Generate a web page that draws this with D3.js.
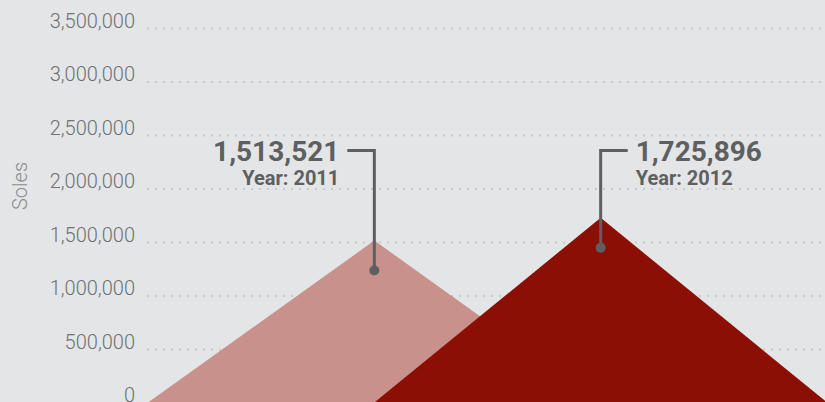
<!DOCTYPE html>
<html>
<head>
<meta charset="utf-8">
<script src="https://cdn.jsdelivr.net/npm/d3@7"></script>
<style>
  html, body { margin: 0; padding: 0; background: #e4e5e7; }
  svg { display: block; font-family: Roboto, "Open Sans", sans-serif; }
</style>
</head>
<body>
<svg id="chart" width="825" height="402"></svg>
<script>
// data
const years = ['2010', '2011', '2012', '2013'];
const soles2011 = [0, 1513521, 0, null];
const soles2012 = [null, 0, 1725896, 0];
const yTicks = [0, 500000, 1000000, 1500000, 2000000, 2500000, 3000000, 3500000];

const width = 825;
const height = 402;
const margin = { left: 147, top: 28, right: -2, bottom: 0 };

const svg = d3.select('#chart');

const x = d3.scalePoint()
  .domain(years)
  .range([margin.left + 1, width - margin.right]);

const y = d3.scaleLinear()
  .domain([0, 3500000])
  .range([height + 0.5 - margin.bottom, margin.top]);

// dotted grid
const grid = svg.append('g')
  .attr('transform', `translate(${margin.left},0)`)
  .call(d3.axisRight(y).tickValues(yTicks).tickSize(width - margin.left).tickFormat(''));
grid.select('.domain').remove();
grid.selectAll('line')
  .attr('stroke', '#c9cacc')
  .attr('stroke-width', 2)
  .attr('stroke-dasharray', '2,6');

// tick labels
const yAxis = svg.append('g')
  .attr('transform', `translate(${margin.left - 12},-7)`)
  .call(d3.axisLeft(y).tickValues(yTicks).tickSize(0).tickPadding(0).tickFormat(d3.format(',')));
yAxis.select('.domain').remove();
yAxis.selectAll('text')
  .attr('fill', '#707173')
  .style('font-size', '20px')
  .style('font-weight', 300)
  .style('font-family', 'Roboto, sans-serif');

svg.append('text')
  .attr('transform', 'translate(27,186) rotate(-90)')
  .attr('text-anchor', 'middle')
  .attr('fill', '#8a8b8d')
  .style('font-size', '20px')
  .style('font-weight', 300)
  .text('Soles');

const area = d3.area()
  .defined(d => d != null)
  .x((d, i) => x(years[i]))
  .y0(y(0))
  .y1(d => y(d));

svg.append('path')
  .datum(soles2011)
  .attr('d', area)
  .attr('fill', '#c9918c');

svg.append('path')
  .datum(soles2012)
  .attr('d', area)
  .attr('fill', '#8b0f04');

// callouts
const callouts = [
  { year: '2011', value: 1513521, side: 'left' },
  { year: '2012', value: 1725896, side: 'right' }
];
const lineY = 150.5;
const inkColor = '#5e5f61';

callouts.forEach(c => {
  const cx = x(c.year);
  const dotY = y(c.value) + 30;
  const dir = c.side === 'left' ? -1 : 1;
  svg.append('path')
    .attr('d', `M${cx + dir * 27},${lineY}H${cx}V${dotY}`)
    .attr('fill', 'none')
    .attr('stroke', inkColor)
    .attr('stroke-width', 3);
  svg.append('circle')
    .attr('cx', cx)
    .attr('cy', dotY)
    .attr('r', 5)
    .attr('fill', inkColor);
  const tx = cx + dir * 35;
  const anchor = c.side === 'left' ? 'end' : 'start';
  svg.append('text')
    .attr('x', tx)
    .attr('y', 161)
    .attr('text-anchor', anchor)
    .attr('fill', inkColor)
    .style('font-size', '28px')
    .style('font-weight', 700)
    .text(d3.format(',')(c.value));
  svg.append('text')
    .attr('x', tx)
    .attr('y', 185)
    .attr('text-anchor', anchor)
    .attr('fill', inkColor)
    .style('font-size', '20px')
    .style('font-weight', 700)
    .text('Year: ' + c.year);
});
</script>
</body>
</html>
